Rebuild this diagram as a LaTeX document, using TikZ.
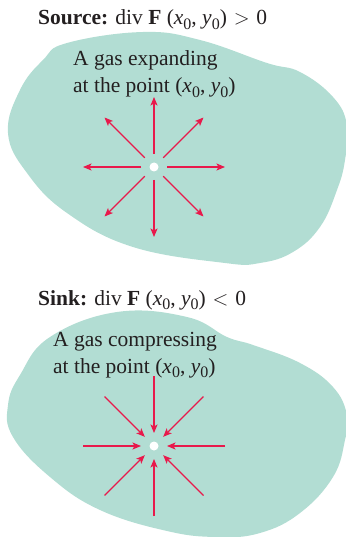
\documentclass[tikz,border=0pt]{standalone}
\usepackage{fontspec}
\setmainfont{Liberation Serif}
\usetikzlibrary{arrows.meta,calc}
\definecolor{gasfill}{HTML}{B2DDD3}
\definecolor{arrred}{HTML}{E8194B}
\definecolor{ink}{HTML}{231F20}
\newcommand{\zsub}[1]{\raisebox{-0.22em}{\fontsize{16}{16}\selectfont #1}}
\newcommand{\ptxy}{(\textit{x}\zsub{0}, \textit{y}\zsub{0})}
\newcommand{\zrel}[1]{\hspace{0.05em}${}#1{}$\hspace{0.05em}}
\begin{document}
\begin{tikzpicture}[x=1pt,y=-1pt,
  blob/.style={fill=gasfill,draw=none},
  flow/.style={draw=arrred,line width=1.1pt,-{Stealth[length=8.5pt,width=7pt,inset=2pt]}},
  lbl/.style={inner sep=0pt,anchor=base west,text=ink,font=\fontsize{21.5}{24}\selectfont},
  dot/.style={circle,fill=white,minimum size=9pt,inner sep=0pt}]
\useasboundingbox (0,0) rectangle (345,537);
% top blob
\path[blob] plot[smooth cycle,tension=0.7] coordinates {
 (67,43) (143,32) (200,40) (267,63) (300,72) (333,97) (347,125) (345,160) (337,190)
 (320,227) (293,252) (260,263) (225,263) (133,247) (67,213) (27,173) (8,133) (20,90) (43,60)};
% bottom blob
\path[blob] plot[smooth cycle,tension=0.7] coordinates {
 (50,337) (117,312) (187,317) (227,337) (253,345) (300,363) (333,387) (347,415) (345,440)
 (333,477) (300,513) (260,533) (217,537) (167,531) (100,510) (50,477) (13,437) (8,405) (20,375)};
% texts
\node[lbl] (t1) at (38,25) {\textbf{Source:} div \textbf{F} \ptxy\zrel{>}0};
\node[lbl] (t2) at (73,66) {A gas expanding};
\node[lbl] (t3) at (73,93) {at the point \ptxy};
\node[lbl] (t4) at (38,305) {\textbf{Sink:} div \textbf{F} \ptxy\zrel{<}0};
\node[lbl] (t5) at (53,346) {A gas compressing};
\node[lbl] (t6) at (53,373) {at the point \ptxy};
% source
\node[dot] (s) at (154,167) {};
\foreach \a/\r in {0/71,45/70,90/70,135/70,180/71,225/70,270/70,315/70}
  \draw[flow] ($(s)+(\a:13)$) -- ($(s)+(\a:\r)$);
% sink
\node[dot] (k) at (154,446) {};
\foreach \a/\r in {0/71,45/70,90/70,135/70,180/71,225/70,270/70,315/70}
  \draw[flow] ($(k)+(\a:\r)$) -- ($(k)+(\a:13)$);
\end{tikzpicture}
\end{document}
